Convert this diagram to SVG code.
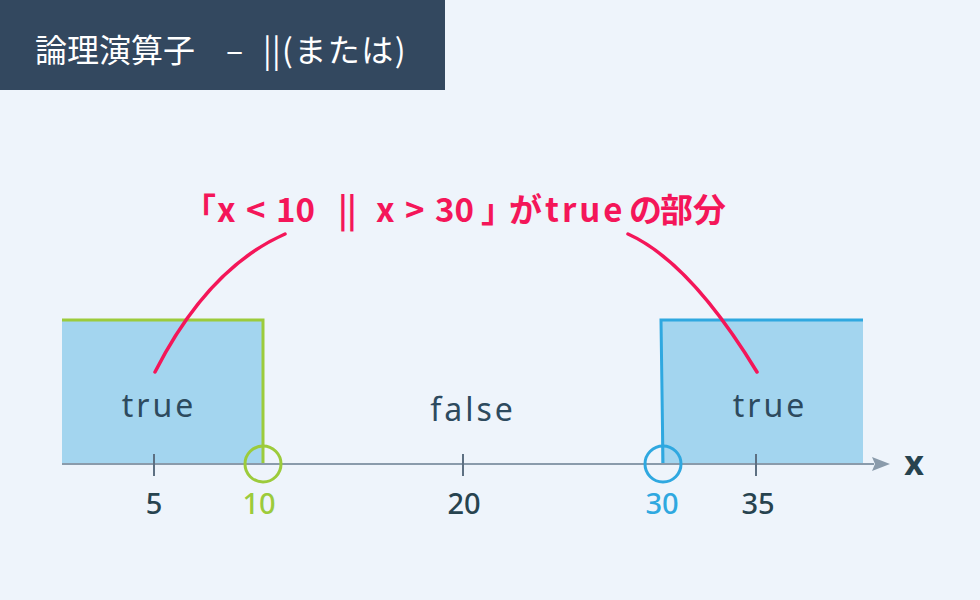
<svg xmlns="http://www.w3.org/2000/svg" width="980" height="600" viewBox="0 0 980 600">
<defs>
<style>
.jp{font-family:"Noto Sans CJK JP","Noto Sans",sans-serif}
.lbl{font-family:"Noto Sans","Noto Sans CJK JP",sans-serif;fill:#2d4a5e;font-size:32px;letter-spacing:3px;text-anchor:middle}
.num{font-family:"Noto Sans","Noto Sans CJK JP",sans-serif;font-size:29px;font-weight:500;text-anchor:middle;fill:#27434f}
.tick{stroke:#5d7082;stroke-width:2}
.callout{fill:none;stroke:#f41659;stroke-width:3.5;stroke-linecap:round}
</style>
<marker id="arr" viewBox="0 0 18 16" refX="2" refY="8" markerWidth="18" markerHeight="16" markerUnits="userSpaceOnUse" orient="auto">
<path d="M0,1 L18,8 L0,15 L3,8 Z" fill="#8a9bab"/>
</marker>
</defs>
<rect width="980" height="600" fill="#eef4fb"/>
<g id="title">
<rect x="0" y="0" width="445" height="90" fill="#33485f"/>
<text y="62" class="jp" font-size="32" fill="#ffffff"><tspan x="35">論理演算子</tspan><tspan x="226">–</tspan><tspan x="263">|</tspan><tspan x="272">|</tspan><tspan x="282" letter-spacing="1.5">(または)</tspan></text>
</g>
<g id="heading">
<text y="222" class="jp" font-size="33" font-weight="700" fill="#f41659"><tspan x="183">「</tspan><tspan x="217">x</tspan><tspan x="246">&lt;</tspan><tspan x="276">10</tspan><tspan x="338">|</tspan><tspan x="347">|</tspan><tspan x="376">x</tspan><tspan x="405">&gt;</tspan><tspan x="435">30</tspan><tspan x="481" letter-spacing="-8">」</tspan><tspan x="509">が</tspan><tspan x="545" letter-spacing="3">true</tspan><tspan x="629">の</tspan><tspan x="660">部分</tspan></text>
</g>
<g id="true-left">
<rect x="62" y="320" width="202" height="144" fill="#a3d5ef"/>
<polyline points="62,320 263,320 263,464" fill="none" stroke="#9ccb3b" stroke-width="3"/>
<text x="159" y="417" class="lbl">true</text>
</g>
<g id="true-right">
<rect x="661" y="320" width="202" height="144" fill="#a3d5ef"/>
<polyline points="863,320 661,320 663,464" fill="none" stroke="#2fa8e0" stroke-width="3"/>
<text x="770" y="417" class="lbl">true</text>
</g>
<g id="false-region">
<text x="473" y="421" class="lbl">false</text>
</g>
<g id="axis">
<line x1="62" y1="464" x2="874" y2="464" stroke="#8a9bab" stroke-width="2" marker-end="url(#arr)"/>
<line x1="154" y1="454" x2="154" y2="476" class="tick"/>
<line x1="463" y1="454" x2="463" y2="476" class="tick"/>
<line x1="756" y1="454" x2="756" y2="476" class="tick"/>
<text x="914" y="475" font-family="Noto Sans, sans-serif" font-size="34" font-weight="700" fill="#27434f" text-anchor="middle">x</text>
<text x="154" y="514" class="num">5</text>
<text x="259" y="514" class="num" style="fill:#9ccb3b">10</text>
<text x="464" y="514" class="num">20</text>
<text x="662" y="514" class="num" style="fill:#2fa8e0">30</text>
<text x="758" y="514" class="num">35</text>
</g>
<g id="marker-10">
<circle cx="263" cy="464" r="18" fill="none" stroke="#9ccb3b" stroke-width="3"/>
</g>
<g id="marker-30">
<circle cx="663" cy="464" r="18" fill="none" stroke="#2fa8e0" stroke-width="3"/>
</g>
<g id="connectors">
<path class="callout" d="M155,372 Q208,268 285,234"/>
<path class="callout" d="M628,234 Q690,262 757,372"/>
</g>
</svg>
